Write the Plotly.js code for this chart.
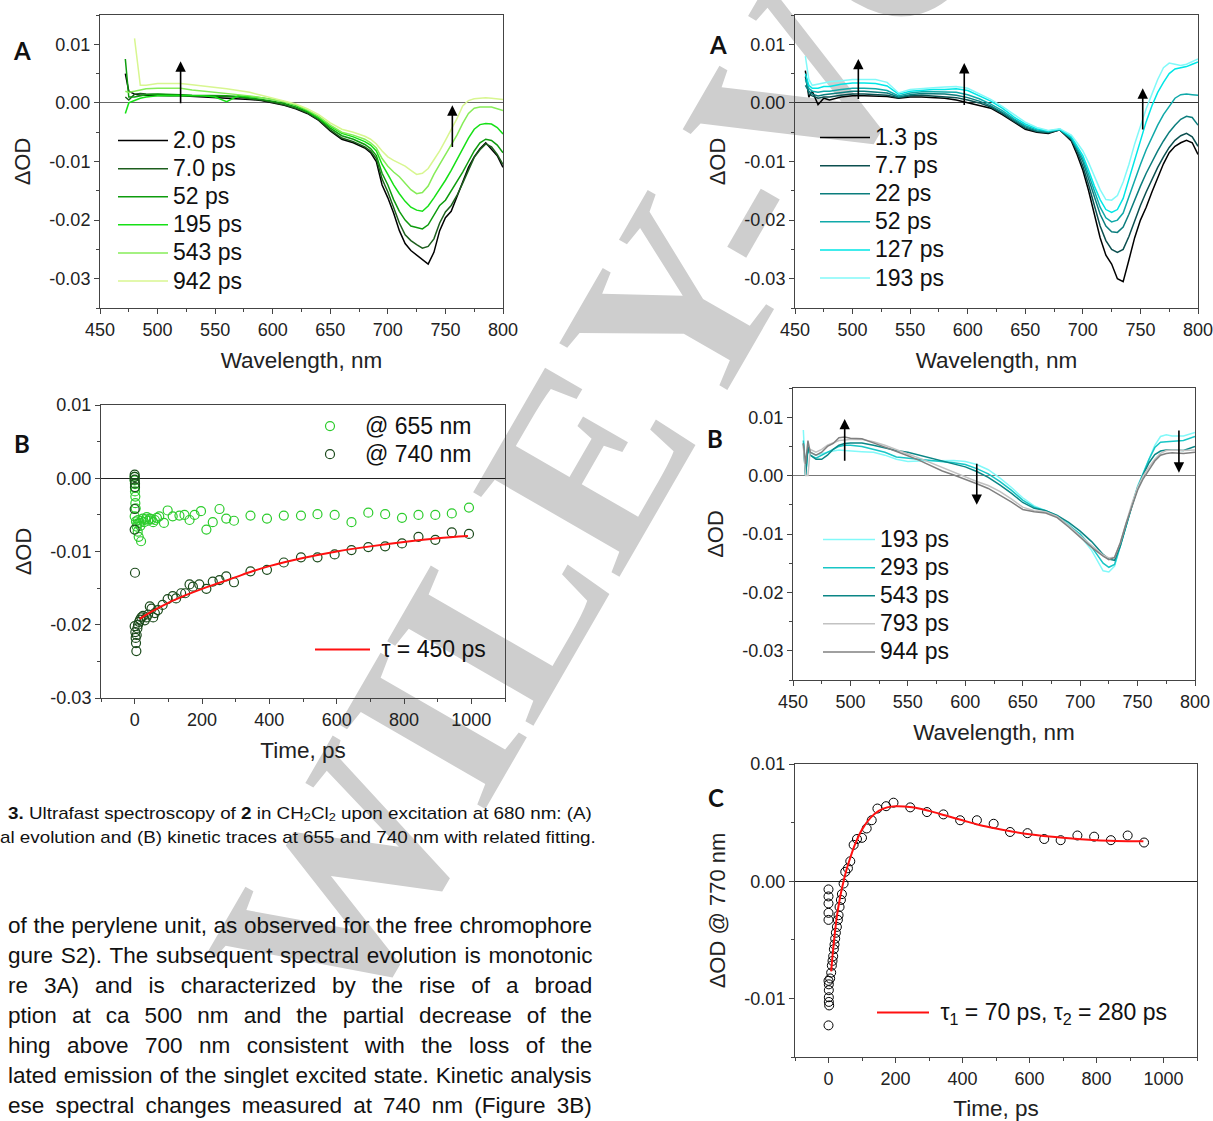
<!DOCTYPE html>
<html>
<head>
<meta charset="utf-8">
<script src="https://cdn.plot.ly/plotly-3.0.1.min.js"></script>
<style>
  html, body { margin:0; padding:0; background:#ffffff; }
  #page { position:relative; width:1213px; height:1121px; overflow:hidden; background:#ffffff; }
  #wm { position:absolute; left:0; top:0; z-index:0; }
  #chart { position:absolute; left:0; top:0; width:1213px; height:1121px; z-index:1; }
  .ln { position:absolute; white-space:nowrap; z-index:2; color:#111; font-family:"Liberation Sans", Arial, sans-serif; transform-origin:0 50%; }
  .ln sub { font-size:0.68em; vertical-align:-0.2em; line-height:0; }
</style>
</head>
<body>
<div id="page">
  <svg id="wm" width="1213" height="1121">
    <text x="352" y="1040" transform="rotate(-60 352 1040)" font-family="Liberation Serif, serif" font-weight="bold" font-size="258" fill="#cecece">WILEY-VCH</text>
  </svg>
  <div id="chart"></div>
</div>
<script>
// ---------------- DATA ----------------
// Panel A (left): wavelengths (nm) and ΔOD spectra
const wlA1 = [472,475,480,485,490,500,510,520,530,540,550,560,570,580,590,600,610,620,630,640,650,660,670,680,685,690,695,700,705,710,715,720,725,730,735,740,745,750,755,760,765,770,775,780,785,790,795,800];
const namesA1 = ["2.0 ps","7.0 ps","52 ps","195 ps","543 ps","942 ps"];
const colorsA1 = ["#000000","#1d5e1d","#0e9c0e","#16e016","#86ec58","#d8f690"];
const a1_2ps = [0.0050,0.0020,0.0015,0.0013,0.0013,0.0012,0.0012,0.0012,0.0011,0.0011,0.0010,0.0009,0.0008,0.0006,0.0004,0.0000,-0.0004,-0.0010,-0.0018,-0.0030,-0.0048,-0.0062,-0.0068,-0.0077,-0.0085,-0.0100,-0.0140,-0.0162,-0.0188,-0.0218,-0.0240,-0.0252,-0.0260,-0.0268,-0.0275,-0.0255,-0.0218,-0.0196,-0.0185,-0.0160,-0.0135,-0.0110,-0.0092,-0.0078,-0.0068,-0.0080,-0.0090,-0.0110];
const a1_7ps = [0.0010,0.0005,0.0015,0.0016,0.0015,0.0014,0.0014,0.0013,0.0012,0.0012,0.0011,0.0010,0.0010,0.0007,0.0005,0.0001,-0.0003,-0.0009,-0.0017,-0.0029,-0.0046,-0.0060,-0.0066,-0.0075,-0.0082,-0.0095,-0.0130,-0.0152,-0.0180,-0.0205,-0.0225,-0.0235,-0.0242,-0.0248,-0.0245,-0.0232,-0.0205,-0.0186,-0.0175,-0.0158,-0.0137,-0.0115,-0.0093,-0.0080,-0.0070,-0.0075,-0.0088,-0.0105];
const a1_52ps = [0.0075,0.0010,0.0010,0.0012,0.0014,0.0015,0.0015,0.0014,0.0013,0.0013,0.0012,0.0012,0.0011,0.0009,0.0006,0.0003,-0.0001,-0.0007,-0.0015,-0.0027,-0.0043,-0.0056,-0.0062,-0.0071,-0.0078,-0.0090,-0.0120,-0.0140,-0.0165,-0.0185,-0.0200,-0.0210,-0.0213,-0.0215,-0.0208,-0.0192,-0.0175,-0.0166,-0.0150,-0.0135,-0.0118,-0.0100,-0.0082,-0.0068,-0.0062,-0.0064,-0.0072,-0.0085];
const a1_195ps = [-0.0018,0.0000,0.0004,0.0008,0.0010,0.0012,0.0012,0.0012,0.0012,0.0012,0.0010,0.0002,0.0012,0.0011,0.0009,0.0006,0.0002,-0.0004,-0.0013,-0.0025,-0.0040,-0.0052,-0.0058,-0.0066,-0.0072,-0.0082,-0.0105,-0.0122,-0.0140,-0.0155,-0.0168,-0.0178,-0.0183,-0.0185,-0.0176,-0.0162,-0.0148,-0.0132,-0.0115,-0.0097,-0.0078,-0.0060,-0.0045,-0.0037,-0.0035,-0.0036,-0.0042,-0.0053];
const a1_543ps = [0.0020,0.0018,0.0020,0.0022,0.0024,0.0025,0.0025,0.0025,0.0022,0.0020,0.0019,0.0017,0.0015,0.0012,0.0009,0.0006,0.0002,-0.0003,-0.0012,-0.0023,-0.0038,-0.0050,-0.0055,-0.0062,-0.0068,-0.0077,-0.0095,-0.0108,-0.0118,-0.0126,-0.0138,-0.0148,-0.0155,-0.0153,-0.0142,-0.0122,-0.0105,-0.0089,-0.0072,-0.0055,-0.0035,-0.0018,-0.0009,-0.0007,-0.0007,-0.0007,-0.0010,-0.0013];
const a1_942ps = [null,null,0.0110,0.0030,0.0030,0.0033,0.0033,0.0033,0.0031,0.0029,0.0027,0.0024,0.0021,0.0018,0.0013,0.0008,0.0003,-0.0002,-0.0010,-0.0020,-0.0034,-0.0045,-0.0050,-0.0057,-0.0062,-0.0070,-0.0082,-0.0092,-0.0098,-0.0103,-0.0108,-0.0115,-0.0122,-0.0120,-0.0112,-0.0097,-0.0082,-0.0064,-0.0045,-0.0027,-0.0005,0.0004,0.0007,0.0008,0.0009,0.0008,0.0007,0.0006];

// Panel A (right)
const wlA2 = [459,462,465,470,475,480,490,500,510,520,530,540,550,560,570,580,590,600,610,620,630,640,650,660,670,680,690,695,700,705,710,715,720,725,730,735,740,745,750,755,760,765,770,775,780,785,790,795,800];
const namesA2 = ["1.3 ps","7.7 ps","22 ps","52 ps","127 ps","193 ps"];
const colorsA2 = ["#000000","#0c4f4f","#0b7d7d","#10a9a9","#00e6e6","#82f9f9"];
const a2_1p3ps = [0.0055,0.0010,0.0020,-0.0003,0.0008,0.0005,0.0010,0.0012,0.0012,0.0012,0.0011,0.0008,0.0010,0.0010,0.0009,0.0008,0.0005,0.0000,-0.0004,-0.0009,-0.0020,-0.0033,-0.0045,-0.0050,-0.0052,-0.0046,-0.0065,-0.0088,-0.0115,-0.0150,-0.0190,-0.0230,-0.0260,-0.0275,-0.0300,-0.0305,-0.0268,-0.0230,-0.0200,-0.0178,-0.0152,-0.0128,-0.0104,-0.0085,-0.0074,-0.0068,-0.0064,-0.0068,-0.0088];
const a2_7p7ps = [0.0045,0.0015,0.0012,0.0008,0.0010,0.0010,0.0013,0.0015,0.0015,0.0014,0.0013,0.0009,0.0012,0.0013,0.0012,0.0011,0.0009,0.0005,0.0000,-0.0007,-0.0018,-0.0031,-0.0043,-0.0049,-0.0051,-0.0046,-0.0063,-0.0083,-0.0108,-0.0140,-0.0175,-0.0210,-0.0235,-0.0250,-0.0255,-0.0250,-0.0228,-0.0200,-0.0175,-0.0152,-0.0130,-0.0110,-0.0092,-0.0076,-0.0064,-0.0056,-0.0052,-0.0058,-0.0074];
const a2_22ps = [0.0030,0.0020,0.0015,0.0012,0.0014,0.0015,0.0018,0.0020,0.0020,0.0019,0.0017,0.0010,0.0014,0.0016,0.0016,0.0015,0.0013,0.0009,0.0003,-0.0005,-0.0016,-0.0029,-0.0041,-0.0048,-0.0050,-0.0046,-0.0061,-0.0080,-0.0100,-0.0130,-0.0160,-0.0190,-0.0210,-0.0220,-0.0221,-0.0212,-0.0190,-0.0165,-0.0142,-0.0120,-0.0100,-0.0082,-0.0065,-0.0050,-0.0038,-0.0028,-0.0023,-0.0025,-0.0038];
const a2_52ps = [0.0040,0.0025,0.0020,0.0018,0.0020,0.0020,0.0023,0.0025,0.0025,0.0024,0.0021,0.0012,0.0017,0.0019,0.0019,0.0018,0.0018,0.0014,0.0007,-0.0002,-0.0013,-0.0027,-0.0039,-0.0046,-0.0049,-0.0045,-0.0060,-0.0077,-0.0095,-0.0122,-0.0152,-0.0178,-0.0196,-0.0203,-0.0200,-0.0188,-0.0160,-0.0132,-0.0105,-0.0080,-0.0058,-0.0038,-0.0020,-0.0005,0.0008,0.0014,0.0015,0.0014,0.0013];
const a2_127ps = [0.0050,0.0030,0.0025,0.0025,0.0028,0.0028,0.0032,0.0034,0.0034,0.0033,0.0029,0.0015,0.0020,0.0022,0.0023,0.0023,0.0024,0.0021,0.0012,0.0003,-0.0009,-0.0024,-0.0036,-0.0044,-0.0048,-0.0045,-0.0058,-0.0074,-0.0090,-0.0115,-0.0142,-0.0165,-0.0182,-0.0187,-0.0182,-0.0163,-0.0130,-0.0095,-0.0064,-0.0032,-0.0005,0.0018,0.0035,0.0050,0.0058,0.0060,0.0062,0.0066,0.0070];
const a2_193ps = [0.0080,0.0040,0.0030,0.0032,0.0035,0.0036,0.0038,0.0040,0.0040,0.0040,0.0035,0.0017,0.0023,0.0025,0.0026,0.0027,0.0028,0.0025,0.0016,0.0006,-0.0006,-0.0020,-0.0033,-0.0042,-0.0047,-0.0044,-0.0055,-0.0068,-0.0082,-0.0102,-0.0125,-0.0148,-0.0165,-0.0166,-0.0158,-0.0135,-0.0105,-0.0070,-0.0040,-0.0010,0.0015,0.0040,0.0060,0.0068,0.0066,0.0064,0.0066,0.0070,0.0075];

// Panel B (right): later spectra
const wlB2 = [459,461,463,465,470,475,480,485,490,495,500,510,520,530,540,550,560,570,580,590,600,610,620,630,640,650,660,670,680,690,700,710,720,725,730,735,740,745,750,755,760,765,770,775,780,790,800];
const namesB2 = ["193 ps","293 ps","543 ps","793 ps","944 ps"];
const colorsB2 = ["#82f9f9","#18c6c6","#0b8686","#c2c2c2","#808080"];
const b2_193ps = [0.0078,0.0000,0.0050,0.0040,0.0035,0.0038,0.0040,0.0042,0.0044,0.0043,0.0042,0.0041,0.0040,0.0035,0.0028,0.0024,0.0025,0.0025,0.0025,0.0026,0.0024,0.0019,0.0010,-0.0004,-0.0020,-0.0038,-0.0052,-0.0060,-0.0068,-0.0083,-0.0103,-0.0128,-0.0163,-0.0165,-0.0155,-0.0120,-0.0085,-0.0050,-0.0018,0.0005,0.0030,0.0052,0.0067,0.0070,0.0068,0.0068,0.0074];
const b2_293ps = [0.0060,0.0000,0.0045,0.0035,0.0030,0.0035,0.0040,0.0046,0.0050,0.0052,0.0052,0.0050,0.0045,0.0040,0.0032,0.0030,0.0029,0.0026,0.0024,0.0022,0.0019,0.0012,0.0003,-0.0010,-0.0025,-0.0042,-0.0054,-0.0060,-0.0070,-0.0085,-0.0100,-0.0122,-0.0150,-0.0157,-0.0152,-0.0120,-0.0085,-0.0052,-0.0020,0.0005,0.0028,0.0048,0.0057,0.0058,0.0059,0.0060,0.0067];
const b2_543ps = [0.0055,0.0000,0.0050,0.0035,0.0028,0.0028,0.0035,0.0045,0.0052,0.0055,0.0056,0.0056,0.0052,0.0047,0.0043,0.0040,0.0035,0.0031,0.0026,0.0020,0.0015,0.0007,-0.0003,-0.0016,-0.0030,-0.0046,-0.0056,-0.0060,-0.0068,-0.0080,-0.0095,-0.0113,-0.0135,-0.0143,-0.0145,-0.0120,-0.0085,-0.0052,-0.0022,0.0002,0.0022,0.0036,0.0042,0.0044,0.0044,0.0043,0.0050];
const b2_793ps = [0.0050,0.0000,0.0000,0.0045,0.0040,0.0045,0.0052,0.0056,0.0060,0.0061,0.0062,0.0062,0.0058,0.0052,0.0044,0.0037,0.0030,0.0022,0.0013,0.0005,-0.0002,-0.0010,-0.0017,-0.0027,-0.0040,-0.0054,-0.0060,-0.0062,-0.0070,-0.0085,-0.0103,-0.0120,-0.0136,-0.0141,-0.0140,-0.0115,-0.0080,-0.0048,-0.0020,0.0000,0.0015,0.0028,0.0038,0.0043,0.0044,0.0043,0.0044];
const b2_944ps = [0.0055,0.0020,0.0060,0.0040,0.0035,0.0040,0.0050,0.0055,0.0065,0.0066,0.0064,0.0063,0.0056,0.0049,0.0041,0.0034,0.0026,0.0017,0.0008,0.0001,-0.0006,-0.0014,-0.0022,-0.0033,-0.0045,-0.0058,-0.0062,-0.0064,-0.0072,-0.0088,-0.0106,-0.0123,-0.0138,-0.0144,-0.0140,-0.0115,-0.0082,-0.0052,-0.0025,-0.0005,0.0010,0.0025,0.0035,0.0038,0.0039,0.0038,0.0040];

// Panel B (left): kinetics at 655 and 740 nm + fit
const t655 = [0,0,1,1,1,2,2,3,0,4,6,9,12,19,8,10,14,17,20,24,28,32,36,40,45,50,55,60,66,73,87,98,113,133,148,163,178,197,213,232,252,272,295,344,393,443,494,543,594,644,694,744,794,843,893,942,993];
const v655 = [0.0002,-0.0003,-0.0008,-0.0013,-0.0018,-0.0025,-0.0034,-0.0041,-0.0052,-0.0059,-0.0066,-0.0073,-0.0080,-0.0086,-0.0062,-0.0057,-0.0061,-0.0065,-0.0058,-0.0055,-0.0060,-0.0056,-0.0053,-0.0058,-0.0055,-0.0056,-0.0060,-0.0057,-0.0054,-0.0052,-0.0061,-0.0044,-0.0052,-0.0051,-0.0050,-0.0057,-0.0050,-0.0045,-0.0070,-0.0060,-0.0042,-0.0055,-0.0058,-0.0051,-0.0055,-0.0051,-0.0051,-0.0049,-0.0050,-0.0060,-0.0047,-0.0049,-0.0054,-0.0050,-0.0050,-0.0048,-0.0040];
const t740 = [0,0,0,1,1,0,0,1,0,2,3,4,5,6,8,10,13,16,20,25,30,35,40,45,50,55,60,69,83,98,113,123,138,150,163,173,192,213,232,252,272,295,344,393,443,494,543,594,644,694,744,794,843,893,942,993];
const v740 = [0.0005,0.0002,-0.0002,-0.0007,-0.0012,-0.0042,-0.0070,-0.0129,-0.0202,-0.0210,-0.0218,-0.0225,-0.0236,-0.0214,-0.0205,-0.0200,-0.0196,-0.0193,-0.0190,-0.0188,-0.0194,-0.0190,-0.0186,-0.0175,-0.0178,-0.0190,-0.0184,-0.0180,-0.0173,-0.0165,-0.0161,-0.0164,-0.0157,-0.0157,-0.0145,-0.0148,-0.0145,-0.0151,-0.0141,-0.0139,-0.0134,-0.0142,-0.0127,-0.0125,-0.0115,-0.0108,-0.0108,-0.0104,-0.0098,-0.0094,-0.0093,-0.0089,-0.0080,-0.0084,-0.0074,-0.0076];
const tFit740 = [15,50,100,150,200,250,300,350,400,500,600,700,800,900,990];
const vFit740 = [-0.0192,-0.0182,-0.0170,-0.0160,-0.0151,-0.0143,-0.0135,-0.0127,-0.0120,-0.0109,-0.0100,-0.0093,-0.0087,-0.0082,-0.0079];

// Panel C: kinetics at 770 nm + biexponential fit
const t770 = [0,0,0,0,0,0,1,1,1,1,2,0,5,8,10,12,14,16,18,20,22,25,28,30,33,37,40,45,50,58,65,75,85,100,114,129,146,172,194,244,294,343,393,443,493,542,594,644,693,743,793,843,893,942];
const v770 = [-0.0007,-0.0013,-0.0019,-0.0027,-0.0033,-0.0085,-0.0088,-0.0093,-0.0099,-0.0103,-0.0106,-0.0123,-0.0083,-0.0078,-0.0072,-0.0068,-0.0064,-0.0058,-0.0054,-0.0049,-0.0044,-0.0039,-0.0033,-0.0029,-0.0022,-0.0016,-0.0011,-0.0002,0.0008,0.0011,0.0017,0.0031,0.0036,0.0037,0.0045,0.0052,0.0062,0.0064,0.0067,0.0063,0.0059,0.0057,0.0052,0.0052,0.0049,0.0042,0.0041,0.0036,0.0035,0.0039,0.0038,0.0035,0.0039,0.0033];
const tFit770 = [8,15,25,35,45,55,65,80,100,125,150,175,200,250,300,350,400,450,500,600,700,800,940];
const vFit770 = [-0.0077,-0.0055,-0.0030,-0.0013,0.0000,0.0011,0.0020,0.0032,0.0044,0.0054,0.0060,0.0063,0.0064,0.0063,0.0060,0.0056,0.0052,0.0048,0.0045,0.0040,0.0037,0.0035,0.0034];

// Tick labels
const specYTickVals = [-0.03,-0.02,-0.01,0,0.01];
const specYTickText = ["-0.03","-0.02","-0.01","0.00","0.01"];
const wlTickVals = [450,500,550,600,650,700,750,800];
const kinYTickVals = [-0.03,-0.02,-0.01,0,0.01];
const kinYTickText = ["-0.03","-0.02","-0.01","0.00","0.01"];
const cYTickVals = [-0.01,0,0.01];
const cYTickText = ["-0.01","0.00","0.01"];
const timeTickVals = [0,200,400,600,800,1000];

// ---------------- BUILD ----------------
const FONT = "Liberation Sans, Arial, sans-serif";
const W = 1213, H = 1121;
const px = v => v / W;
const py = v => 1 - v / H;
const big = s => '<span style="font-size:23px">' + s + '</span>';

const traces = [];
const seriesA1 = [a1_2ps,a1_7ps,a1_52ps,a1_195ps,a1_543ps,a1_942ps];
seriesA1.forEach((s,i) => traces.push({x: wlA1, y: s, type:"scatter", mode:"lines", name: big(namesA1[i]),
  line:{color: colorsA1[i], width:1.5}, xaxis:"x", yaxis:"y", legend:"legend"}));
const seriesA2 = [a2_1p3ps,a2_7p7ps,a2_22ps,a2_52ps,a2_127ps,a2_193ps];
seriesA2.forEach((s,i) => traces.push({x: wlA2, y: s, type:"scatter", mode:"lines", name: big(namesA2[i]),
  line:{color: colorsA2[i], width:1.5}, xaxis:"x2", yaxis:"y2", legend:"legend2"}));
traces.push({x:t655, y:v655, type:"scatter", mode:"markers", name: big("@ 655 nm"),
  marker:{symbol:"circle-open", size:9, color:"#2ccc2c", line:{width:1.2}}, xaxis:"x3", yaxis:"y3", legend:"legend3"});
traces.push({x:t740, y:v740, type:"scatter", mode:"markers", name: big("@ 740 nm"),
  marker:{symbol:"circle-open", size:9, color:"#1b4a1b", line:{width:1.2}}, xaxis:"x3", yaxis:"y3", legend:"legend3"});
traces.push({x:tFit740, y:vFit740, type:"scatter", mode:"lines", line:{shape:"spline", color:"#ff1010", width:2},
  name: big("\u00a0τ = 450 ps"), xaxis:"x3", yaxis:"y3", legend:"legend4"});
const seriesB2 = [b2_193ps,b2_293ps,b2_543ps,b2_793ps,b2_944ps];
seriesB2.forEach((s,i) => traces.push({x: wlB2, y: s, type:"scatter", mode:"lines", name: big(namesB2[i]),
  line:{color: colorsB2[i], width:1.5}, xaxis:"x4", yaxis:"y4", legend:"legend5"}));
traces.push({x:t770, y:v770, type:"scatter", mode:"markers", showlegend:false, name:"770 nm",
  marker:{symbol:"circle-open", size:9, color:"#000000", line:{width:1}}, xaxis:"x5", yaxis:"y5"});
traces.push({x:tFit770, y:vFit770, type:"scatter", mode:"lines", line:{shape:"spline", color:"#ff1010", width:2},
  name: big("\u00a0τ<sub>1</sub> = 70 ps, τ<sub>2</sub> = 280 ps"), xaxis:"x5", yaxis:"y5", legend:"legend6"});

function xAx(domain, anchor, range, tickvals, minorDtick, title, standoff) {
  return {domain: domain, anchor: anchor, range: range, tickmode:"array", tickvals: tickvals,
    ticks:"outside", ticklen:5, tickwidth:1, tickcolor:"#444", showline:true, linecolor:"#444", linewidth:1,
    mirror:true, showgrid:false, zeroline:false, automargin:false, ticklabeloverflow:"allow",
    tickfont:{family:FONT, size:18, color:"#222"},
    minor:{tickmode:"linear", dtick:minorDtick, ticks:"outside", ticklen:3, tickcolor:"#444", showgrid:false},
    title:{text:title, font:{family:FONT, size:22.5, color:"#222"}, standoff: standoff}};
}
function yAx(domain, anchor, range, tickvals, ticktext, title, zcolor, standoff) {
  return {domain: domain, anchor: anchor, range: range, tickmode:"array", tickvals: tickvals, ticktext: ticktext,
    ticks:"outside", ticklen:5, tickwidth:1, tickcolor:"#444", showline:true, linecolor:"#444", linewidth:1,
    mirror:true, showgrid:false, zeroline:true, zerolinecolor: zcolor, zerolinewidth:1, automargin:false,
    ticklabeloverflow:"allow",
    tickfont:{family:FONT, size:18, color:"#222"},
    minor:{tickmode:"linear", tick0:0, dtick:0.005, ticks:"outside", ticklen:3, tickcolor:"#444", showgrid:false},
    title:{text:title, font:{family:FONT, size:22, color:"#222"}, standoff: standoff}};
}

const legendBase = {bgcolor:"rgba(0,0,0,0)", borderwidth:0, font:{family:FONT, size:19.3, color:"#111"},
  xref:"paper", yref:"paper", xanchor:"left", yanchor:"top", tracegroupgap:0};

const layout = {
  width: W, height: H, margin:{l:0,r:0,t:0,b:0},
  paper_bgcolor:"rgba(0,0,0,0)", plot_bgcolor:"rgba(0,0,0,0)",
  font:{family:FONT, color:"#222"},
  xaxis:  xAx([px(100),px(503)], "y",  [450,800], wlTickVals, 25, "Wavelength, nm", 13),
  yaxis:  yAx([py(308),py(15)],  "x",  [-0.035,0.015], specYTickVals, specYTickText, "ΔOD", "#666", 12),
  xaxis2: xAx([px(795),px(1198)], "y2", [450,800], wlTickVals, 25, "Wavelength, nm", 13),
  yaxis2: yAx([py(308),py(15)],  "x2", [-0.035,0.015], specYTickVals, specYTickText, "ΔOD", "#333", 12),
  xaxis3: xAx([px(101),px(505)], "y3", [-100,1100], timeTickVals, 100, "Time, ps", 13),
  yaxis3: yAx([py(698),py(405)], "x3", [-0.03,0.01], kinYTickVals, kinYTickText, "ΔOD", "#222", 12),
  xaxis4: xAx([px(793),px(1195)], "y4", [450,800], wlTickVals, 25, "Wavelength, nm", 13),
  yaxis4: yAx([py(680),py(388)], "x4", [-0.035,0.015], specYTickVals, specYTickText, "ΔOD", "#777", 12),
  xaxis5: xAx([px(795),px(1197)], "y5", [-100,1100], timeTickVals, 100, "Time, ps", 13),
  yaxis5: yAx([py(1057),py(764)], "x5", [-0.015,0.01], cYTickVals, cYTickText, "ΔOD @ 770 nm", "#222", 12),
  legend:  Object.assign({}, legendBase, {x:px(113), y:py(121.5), itemwidth:50}),
  legend2: Object.assign({}, legendBase, {x:px(815), y:py(118.5), itemwidth:50}),
  legend3: Object.assign({}, legendBase, {x:px(295), y:py(407), itemwidth:60}),
  legend4: Object.assign({}, legendBase, {x:px(310), y:py(630.5), itemwidth:55}),
  legend5: Object.assign({}, legendBase, {x:px(818), y:py(520.5), itemwidth:52}),
  legend6: Object.assign({}, legendBase, {x:px(872), y:py(993.5), itemwidth:52}),
  annotations: [],
  showlegend: true
};

// Panel letters
[["A",22,50],["A",718,45],["B",22,443],["B",715,438],["C",716,797]].forEach(l => {
  layout.annotations.push({text:"<b>"+l[0]+"</b>", x:px(l[1]), y:py(l[2]), xref:"paper", yref:"paper",
    xanchor:"center", yanchor:"middle", showarrow:false, font:{family:"Lato, Liberation Sans, Arial, sans-serif", size:24, color:"#111"}});
});
// Arrows indicating spectral evolution
function arrow(xr, yr, x, yTip, yTail) {
  return {xref:xr, yref:yr, axref:xr, ayref:yr, x:x, y:yTip, ax:x, ay:yTail, text:"", showarrow:true,
    arrowhead:2, arrowsize:1.3, arrowwidth:1.6, arrowcolor:"#000", standoff:0, startstandoff:0};
}
layout.annotations.push(arrow("x","y",520,0.0071,-0.0003));
layout.annotations.push(arrow("x","y",756,-0.0004,-0.0078));
layout.annotations.push(arrow("x2","y2",505,0.0075,0.0004));
layout.annotations.push(arrow("x2","y2",597,0.0068,-0.0006));
layout.annotations.push(arrow("x2","y2",752,0.0025,-0.0048));
layout.annotations.push(arrow("x4","y4",495,0.0097,0.0023));
layout.annotations.push(arrow("x4","y4",610,-0.0050,0.0023));
layout.annotations.push(arrow("x4","y4",786,0.0005,0.0080));

Plotly.newPlot("chart", traces, layout, {displayModeBar:false, staticPlot:true});

// ---------------- TEXT (caption + body) ----------------
const captionLines = [
  "<b>3.</b> Ultrafast spectroscopy of <b>2</b> in CH<sub>2</sub>Cl<sub>2</sub> upon excitation at 680 nm: (A)",
  "al evolution and (B) kinetic traces at 655 and 740 nm with related fitting."
];
const bodyLines = [
  "of the perylene unit, as observed for the free chromophore",
  "gure S2). The subsequent spectral evolution is monotonic",
  "re 3A) and is characterized by the rise of a broad",
  "ption at ca 500 nm and the partial decrease of the",
  "hing above 700 nm consistent with the loss of the",
  "lated emission of the singlet excited state. Kinetic analysis",
  "ese spectral changes measured at 740 nm (Figure 3B)"
];
const page = document.getElementById("page");
function makeLine(html, size) {
  const d = document.createElement("div");
  d.className = "ln";
  d.style.fontSize = size + "px";
  d.innerHTML = html;
  page.appendChild(d);
  return d;
}
function place(d, left, cy) {
  d.style.left = left + "px";
  d.style.top = (cy - d.offsetHeight / 2) + "px";
}
function justify(d, width) {
  const nat = d.offsetWidth;
  const spaces = (d.textContent.match(/ /g) || []).length;
  if (spaces > 0) d.style.wordSpacing = ((width - nat) / spaces) + "px";
}
// caption: fit line 1 to the column by horizontal scaling
const cap1 = makeLine(captionLines[0], 17);
const cap2 = makeLine(captionLines[1], 17);
const capScale = 584 / cap1.offsetWidth;
[cap1, cap2].forEach(d => { d.style.transform = "scaleX(" + capScale + ")"; });
place(cap1, 8, 814);
place(cap2, 0, 838);
// body: size chosen so that the first (naturally full) line fills the column, then justify
const probe = makeLine(bodyLines[0], 21);
const bodySize = 21 * 582 / probe.offsetWidth;
probe.remove();
bodyLines.forEach((t, i) => {
  const d = makeLine(t, bodySize);
  justify(d, 584);
  place(d, 8, 926 + 30 * i);
});
</script>
</body>
</html>
